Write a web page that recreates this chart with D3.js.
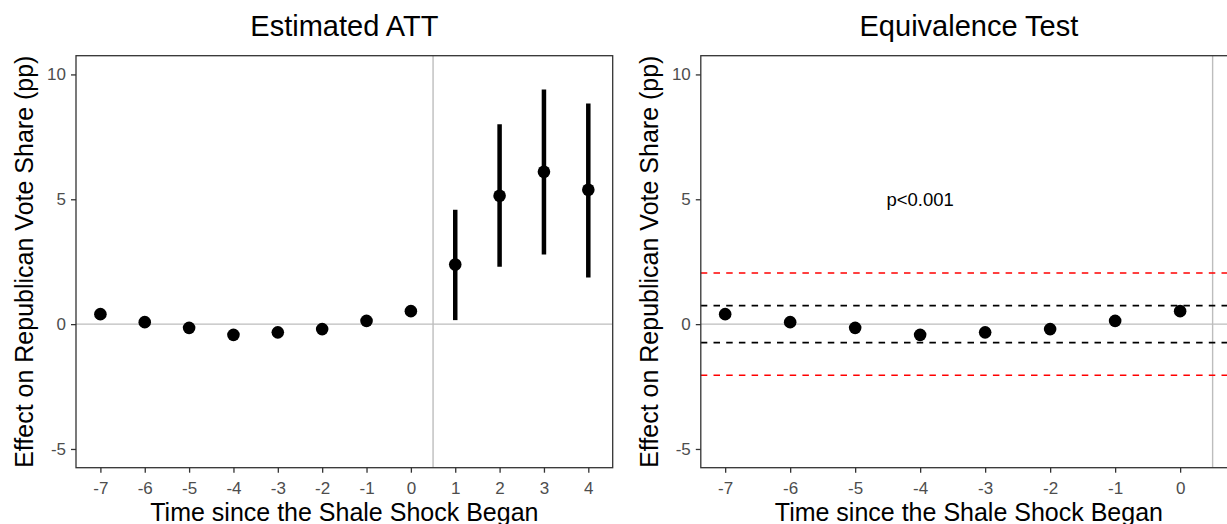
<!DOCTYPE html>
<html><head><meta charset="utf-8">
<script src="https://cdn.jsdelivr.net/npm/d3@7"></script>
<style>body{margin:0;background:#fff}svg{display:block;font-family:"Liberation Sans",Arial,Helvetica,sans-serif}</style>
</head><body><svg id="c" width="1227" height="524"></svg>
<script>
// ---- data ----
const periods = [-7,-6,-5,-4,-3,-2,-1,0,1,2,3,4];
const att = [0.40,0.08,-0.15,-0.43,-0.33,-0.20,0.13,0.52,2.39,5.14,6.10,5.38];
const ciLow = [null,null,null,null,null,null,null,null,0.16,2.30,2.79,1.87];
const ciHigh = [null,null,null,null,null,null,null,null,4.58,8.00,9.40,8.84];
const prePeriods = [-7,-6,-5,-4,-3,-2,-1,0];
const preAtt = [0.40,0.08,-0.15,-0.43,-0.33,-0.20,0.13,0.52];
const eqBoundBlack = [-0.74,0.74];
const eqBoundRed = [-2.05,2.05];
const yTicks = [-5,0,5,10];
const pLabel = "p<0.001";
const pPos = [-4,5];
const treatLine = 0.5;
const titles = ["Estimated ATT","Equivalence Test"];
const xTitle = "Time since the Shale Shock Began";
const yTitle = "Effect on Republican Vote Share (pp)";

const svg = d3.select("#c");
svg.append("rect").attr("width",1227).attr("height",524).attr("fill","#fff");

const yTop = 55.7, yBot = 467.7;
const y = d3.scaleLinear().domain([-5.75,10.75]).range([yBot,yTop]);
const fmt = d => String(d);

function panel(x0,x1,xDomain,xTickVals,title,drawFn){
  const x = d3.scaleLinear().domain(xDomain).range([x0,x1]);
  const g = svg.append("g");
  g.append("line").attr("x1",x0).attr("x2",x1).attr("y1",y(0)).attr("y2",y(0))
    .attr("stroke","#bdbdbd").attr("stroke-width",1.4);
  g.append("line").attr("x1",x(treatLine)).attr("x2",x(treatLine)).attr("y1",yTop).attr("y2",yBot)
    .attr("stroke","#bdbdbd").attr("stroke-width",1.4);
  drawFn(g,x);
  g.append("rect").attr("x",x0).attr("y",yTop).attr("width",x1-x0).attr("height",yBot-yTop)
    .attr("fill","none").attr("stroke","#333").attr("stroke-width",1.3);
  const ax = g.append("g").attr("transform",`translate(0,${yBot})`)
    .call(d3.axisBottom(x).tickValues(xTickVals).tickSize(5).tickPadding(5).tickFormat(fmt));
  const ay = g.append("g").attr("transform",`translate(${x0},0)`)
    .call(d3.axisLeft(y).tickValues(yTicks).tickSize(5).tickPadding(5).tickFormat(fmt));
  [ax,ay].forEach(a=>{
    a.select(".domain").remove();
    a.selectAll(".tick line").attr("stroke","#333").attr("stroke-width",1.3);
    a.selectAll(".tick text").attr("fill","#4d4d4d").style("font-size","17px")
      .style("font-family","'Liberation Sans',Arial,sans-serif");
  });
  ax.selectAll(".tick text").attr("dy","0.95em");
  const cx = (x0+x1)/2;
  g.append("text").attr("x",cx).attr("y",36).attr("text-anchor","middle")
    .style("font-size","29px").attr("fill","#000").text(title);
  g.append("text").attr("x",cx).attr("y",521).attr("text-anchor","middle")
    .style("font-size","25px").attr("fill","#000").text(xTitle);
  g.append("text").attr("transform",`translate(${x0-43},${(yTop+yBot)/2}) rotate(-90)`)
    .attr("text-anchor","middle").style("font-size","25px").attr("fill","#000").text(yTitle);
}

panel(76,612.7,[-7.55,4.55],periods,titles[0],(g,x)=>{
  const idx = d3.range(periods.length).filter(i=>ciLow[i]!==null);
  g.selectAll("line.ci").data(idx).join("line").attr("class","ci")
    .attr("x1",i=>x(periods[i])).attr("x2",i=>x(periods[i]))
    .attr("y1",i=>y(ciLow[i])).attr("y2",i=>y(ciHigh[i]))
    .attr("stroke","#000").attr("stroke-width",4.5);
  g.selectAll("circle.pt").data(d3.range(periods.length)).join("circle").attr("class","pt")
    .attr("cx",i=>x(periods[i])).attr("cy",i=>y(att[i])).attr("r",6.3).attr("fill","#000");
});

panel(700.8,1237,[-7.375,0.875],prePeriods,titles[1],(g,x)=>{
  const x0 = 700.8, x1 = 1237;
  const dl = (vals,col)=>g.selectAll(null).data(vals).join("line")
    .attr("x1",x0).attr("x2",x1).attr("y1",d=>y(d)).attr("y2",d=>y(d))
    .attr("stroke",col).attr("stroke-width",1.6).attr("stroke-dasharray","6.5,6.2");
  dl(eqBoundRed,"#ff0000");
  dl(eqBoundBlack,"#000");
  g.selectAll("circle.pt").data(d3.range(prePeriods.length)).join("circle").attr("class","pt")
    .attr("cx",i=>x(prePeriods[i])).attr("cy",i=>y(preAtt[i])).attr("r",6.3).attr("fill","#000");
  g.append("text").attr("x",x(pPos[0])).attr("y",y(pPos[1])).attr("dy","0.35em")
    .attr("text-anchor","middle").style("font-size","18.5px").attr("fill","#000").text(pLabel);
});
</script></body></html>
